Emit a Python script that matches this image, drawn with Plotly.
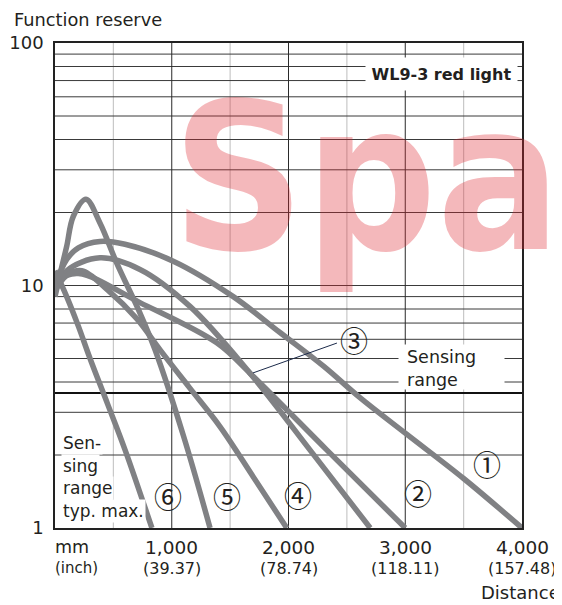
import math
import plotly.graph_objects as go

# ---------------- data ----------------
curve_names = ["1", "2", "3", "4", "5", "6"]
c1_x = [0, 100, 200, 385, 600, 1013, 1527, 1927, 2300, 2612, 3006, 3500, 4000]
c1_y = [10.0, 12.8, 14.3, 15.2, 14.8, 12.6, 9.0, 6.4, 4.65, 3.45, 2.45, 1.6, 1.0]
c2_x = [0, 200, 728, 1385, 1670, 2327, 3000]
c2_y = [10.5, 11.2, 8.5, 5.8, 4.35, 2.1, 1.0]
c3_x = [0, 100, 385, 728, 1156, 1670, 2200, 2700]
c3_y = [9.5, 11.5, 13.0, 11.65, 8.2, 4.35, 2.05, 1.0]
c4_x = [0, 100, 230, 450, 700, 900, 1150, 1413, 1700, 1985]
c4_y = [9.5, 11.0, 11.5, 9.6, 7.3, 5.43, 3.8, 2.62, 1.62, 1.0]
c5_x = [0, 50, 100, 157, 265, 385, 528, 728, 857, 1100, 1328]
c5_y = [9.0, 11.5, 14.5, 19.3, 22.7, 18.1, 12.4, 7.7, 5.43, 2.4, 1.0]
c6_x = [0, 100, 200, 300, 450, 600, 830]
c6_y = [11.5, 9.0, 6.8, 5.0, 3.25, 2.1, 1.0]

x_tick_vals = [1000, 2000, 3000, 4000]
x_tick_mm = ["1,000", "2,000", "3,000", "4,000"]
x_tick_inch = ["(39.37)", "(78.74)", "(118.11)", "(157.48)"]
y_tick_vals = [1, 10, 100]
y_tick_text = ["1", "10", "100"]
y_grid_vals = [2, 3, 4, 5, 6, 7, 8, 9, 10, 20, 30, 40, 50, 60, 70, 80, 90]
x_grid_major = [1000, 2000, 3000]
x_grid_minor = [500, 1500, 2500, 3500]
sensing_limit = 3.6

# label anchor positions (mm, function reserve)
label_text = ["\u2460", "\u2461", "\u2462", "\u2463", "\u2464", "\u2465"]
label_x = [3703, 3107, 2561, 2084, 1471, 970]
label_y = [1.83, 1.395, 5.96, 1.374, 1.352, 1.352]
leader = ((2415, 5.79), (1696, 4.36))

# ---------------- figure ----------------
# The page body has an 8px default margin, so the figure is drawn 8px smaller.
OFF = 8
W, H = 562 - OFF, 605 - OFF
ML, MT = 55 - OFF, 43 - OFF
PW, PH = 467, 485
MR, MB = W - ML - PW, H - MT - PH
FONT = "DejaVu Sans"
TXT = "#231f20"
CURVE = "#808184"


def px_x(px):
    return (px - OFF - ML) / PW


def px_y(py):
    return (H - MB - (py - OFF)) / PH


fig = go.Figure()
for xs, ys in [(c1_x, c1_y), (c2_x, c2_y), (c3_x, c3_y),
               (c4_x, c4_y), (c5_x, c5_y), (c6_x, c6_y)]:
    fig.add_trace(go.Scatter(x=xs, y=ys, mode="lines",
                             line=dict(color=CURVE, width=5.5, shape="spline", smoothing=1.0),
                             hoverinfo="skip", showlegend=False))

shapes = []
for xv in x_grid_minor:
    shapes.append(dict(type="line", xref="x", yref="paper", x0=xv, x1=xv, y0=0, y1=1,
                       line=dict(color="#c8c8c8", width=1.2), layer="between"))
for yv in y_grid_vals:
    shapes.append(dict(type="line", xref="paper", yref="y", x0=0, x1=1, y0=yv, y1=yv,
                       line=dict(color="#3a3a3a", width=1), layer="between"))
for xv in x_grid_major:
    shapes.append(dict(type="line", xref="x", yref="paper", x0=xv, x1=xv, y0=0, y1=1,
                       line=dict(color="#2a2a2a", width=1), layer="between"))
shapes.append(dict(type="line", xref="paper", yref="y", x0=0, x1=1,
                   y0=sensing_limit, y1=sensing_limit,
                   line=dict(color="#111", width=2), layer="between"))
shapes.append(dict(type="line", xref="x", yref="y",
                   x0=leader[0][0], y0=leader[0][1],
                   x1=leader[1][0], y1=leader[1][1],
                   line=dict(color="#1b2a4a", width=1), layer="above"))

ann = []
# watermark
ann.append(dict(text="Spa", xref="paper", yref="paper", x=px_x(366), y=px_y(178),
                xanchor="center", yanchor="middle", showarrow=False,
                font=dict(family="DejaVu Sans Condensed", size=205, weight="bold",
                          color="rgba(222,40,48,0.33)")))
# title-ish texts
ann.append(dict(text="Function reserve", xref="paper", yref="paper", x=px_x(12), y=px_y(19.5),
                xanchor="left", yanchor="middle", showarrow=False,
                font=dict(family=FONT, size=17.8, color=TXT)))
ann.append(dict(text="Distance", xref="paper", yref="paper", x=px_x(562), y=px_y(592),
                xanchor="right", yanchor="middle", showarrow=False,
                font=dict(family=FONT, size=18, color=TXT)))
ann.append(dict(text="mm", xref="paper", yref="paper", x=px_x(53), y=px_y(547),
                xanchor="left", yanchor="middle", showarrow=False,
                font=dict(family=FONT, size=17.5, color=TXT)))
ann.append(dict(text="(inch)", xref="paper", yref="paper", x=px_x(53), y=px_y(568),
                xanchor="left", yanchor="middle", showarrow=False,
                font=dict(family=FONT, size=15, color=TXT)))
# x tick labels (two rows)
for xv, a, b in zip(x_tick_vals, x_tick_mm, x_tick_inch):
    ann.append(dict(text=a, xref="x", yref="paper", x=xv, y=px_y(547),
                    xanchor="center", yanchor="middle", showarrow=False,
                    font=dict(family=FONT, size=18.5, color=TXT)))
    ann.append(dict(text=b, xref="x", yref="paper", x=xv, y=px_y(568),
                    xanchor="center", yanchor="middle", showarrow=False,
                    font=dict(family=FONT, size=16, color=TXT)))
# boxed texts
ann.append(dict(text="WL9-3 red light", xref="paper", yref="paper", x=px_x(441), y=px_y(74),
                xanchor="center", yanchor="middle", showarrow=False, bgcolor="white",
                width=147, height=28, borderpad=2,
                font=dict(family=FONT, size=16, color=TXT, weight="bold")))
ann.append(dict(text=" ", xref="paper", yref="paper", x=px_x(398), y=px_y(367),
                xanchor="left", yanchor="middle", showarrow=False, bgcolor="white",
                width=105, height=44, borderpad=0, font=dict(family=FONT, size=10)))
ann.append(dict(text="Sensing<br>range", xref="paper", yref="paper", x=px_x(405), y=px_y(368),
                xanchor="left", yanchor="middle", showarrow=False, align="left",
                font=dict(family=FONT, size=17.5, color=TXT)))
for t, cy in [("Sen-", 443), ("sing", 465.5), ("range", 488), ("typ. max.", 510.5)]:
    ann.append(dict(text=t, xref="paper", yref="paper", x=px_x(61), y=px_y(cy),
                    xanchor="left", yanchor="middle", showarrow=False, bgcolor="white",
                    borderpad=1, font=dict(family=FONT, size=17, color=TXT)))
# circled curve labels
for t, lx, ly in zip(label_text, label_x, label_y):
    ann.append(dict(text=t, xref="x", yref="y", x=lx, y=math.log10(ly),
                    xanchor="center", yanchor="middle", showarrow=False,
                    font=dict(family="Noto Sans CJK JP", size=28, color=TXT)))

fig.update_layout(
    width=W, height=H, margin=dict(l=ML, r=MR, t=MT, b=MB, autoexpand=False),
    paper_bgcolor="white", plot_bgcolor="white",
    shapes=shapes, annotations=ann,
    xaxis=dict(range=[0, 4000], showgrid=False, zeroline=False, automargin=False,
               showticklabels=False, ticks="",
               showline=True, mirror=True, linecolor="#222", linewidth=1.5),
    yaxis=dict(type="log", range=[0, 2], showgrid=False, zeroline=False, automargin=False,
               tickmode="array", tickvals=y_tick_vals, ticktext=y_tick_text,
               ticks="", ticklabelstandoff=6, tickfont=dict(family=FONT, size=18, color=TXT),
               showline=True, mirror=True, linecolor="#222", linewidth=1.5),
    font=dict(family=FONT, color=TXT),
)
fig.write_html("out.html")
